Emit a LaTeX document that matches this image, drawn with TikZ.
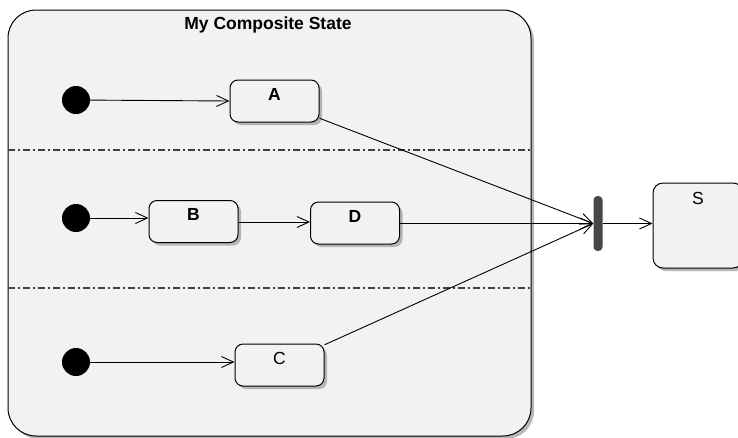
\documentclass[tikz,border=0pt]{standalone}
\usepackage{fontspec}
\setmainfont{Liberation Sans}
\usetikzlibrary{arrows.meta, shadows}
\definecolor{stfill}{HTML}{F2F2F2}
\definecolor{sepgray}{HTML}{404040}
\definecolor{bargray}{HTML}{474747}
\begin{document}
\begin{tikzpicture}[x=1pt, y=-1pt,
    every node/.style={font=\fontsize{17.5}{20}\selectfont},
    shade/.style={drop shadow={shadow xshift=3pt, shadow yshift=-3pt, fill=black!35, opacity=0.8}},
    state/.style={rectangle, draw, line width=1pt, rounded corners=8pt, fill=stfill, shade,
        minimum width=89pt, minimum height=42pt, inner sep=0pt, text height=12.5pt, text depth=14pt},
    initial/.style={circle, fill=black, minimum size=28pt, inner sep=0pt},
    trans/.style={line width=0.9pt, -{Straight Barb[length=12pt, width=11pt, line width=0.9pt]}},
    region/.style={line width=1.2pt, sepgray, dash pattern=on 7pt off 3pt on 2pt off 3pt}]
        \useasboundingbox[fill=white] (0,0) rectangle (738,437);
        % Composite state with its regions
            \node[draw, line width=1pt, rounded corners=28pt, fill=stfill, shade,
                  minimum width=523pt, minimum height=426pt] (comp) at (269.5,223) {};
            \node (title) at (268,25) {\bfseries My Composite State};
            \draw[region] (comp.west |- 0,150) -- (comp.east |- 0,150);
            \draw[region] (comp.west |- 0,288) -- (comp.east |- 0,288);
        % Initial pseudostates
            \node[initial] (i1) at (76,100) {};
            \node[initial] (i2) at (76,218) {};
            \node[initial] (i3) at (76,362) {};
        % States in the regions
            \node[state] (A) at (274.5,101)  {\bfseries A};
            \node[state] (B) at (193.5,221.5) {\bfseries B};
            \node[state] (D) at (355,223)    {\bfseries D};
            \node[state] (C) at (279.5,365)  {C};
        % Join bar and target state
            \node[rectangle, fill=bargray, rounded corners=4pt, minimum width=9pt, minimum height=55pt,
                  inner sep=0pt] (join) at (598,223.5) {};
            \node[state, rounded corners=10pt, minimum width=90pt, minimum height=85pt] (S) at (698,225.5) {};
            \node (Sname) at (698,198.5) {S};
        % Transitions
            \draw[trans] (i1) -- (A.west);
            \draw[trans] (i2) -- (B.west |- i2);
            \draw[trans] (B.east |- 0,222) -- (D.west |- 0,222);
            \draw[trans] (i3) -- (C.west |- i3);
            \draw[trans] (A) -- (join.west);
            \draw[trans] (D.east |- join.west) -- (join.west);
            \draw[trans] (C) -- (join.west);
            \draw[trans] (join.east) -- (S.west |- join.east);
        \end{tikzpicture}
\end{document}
